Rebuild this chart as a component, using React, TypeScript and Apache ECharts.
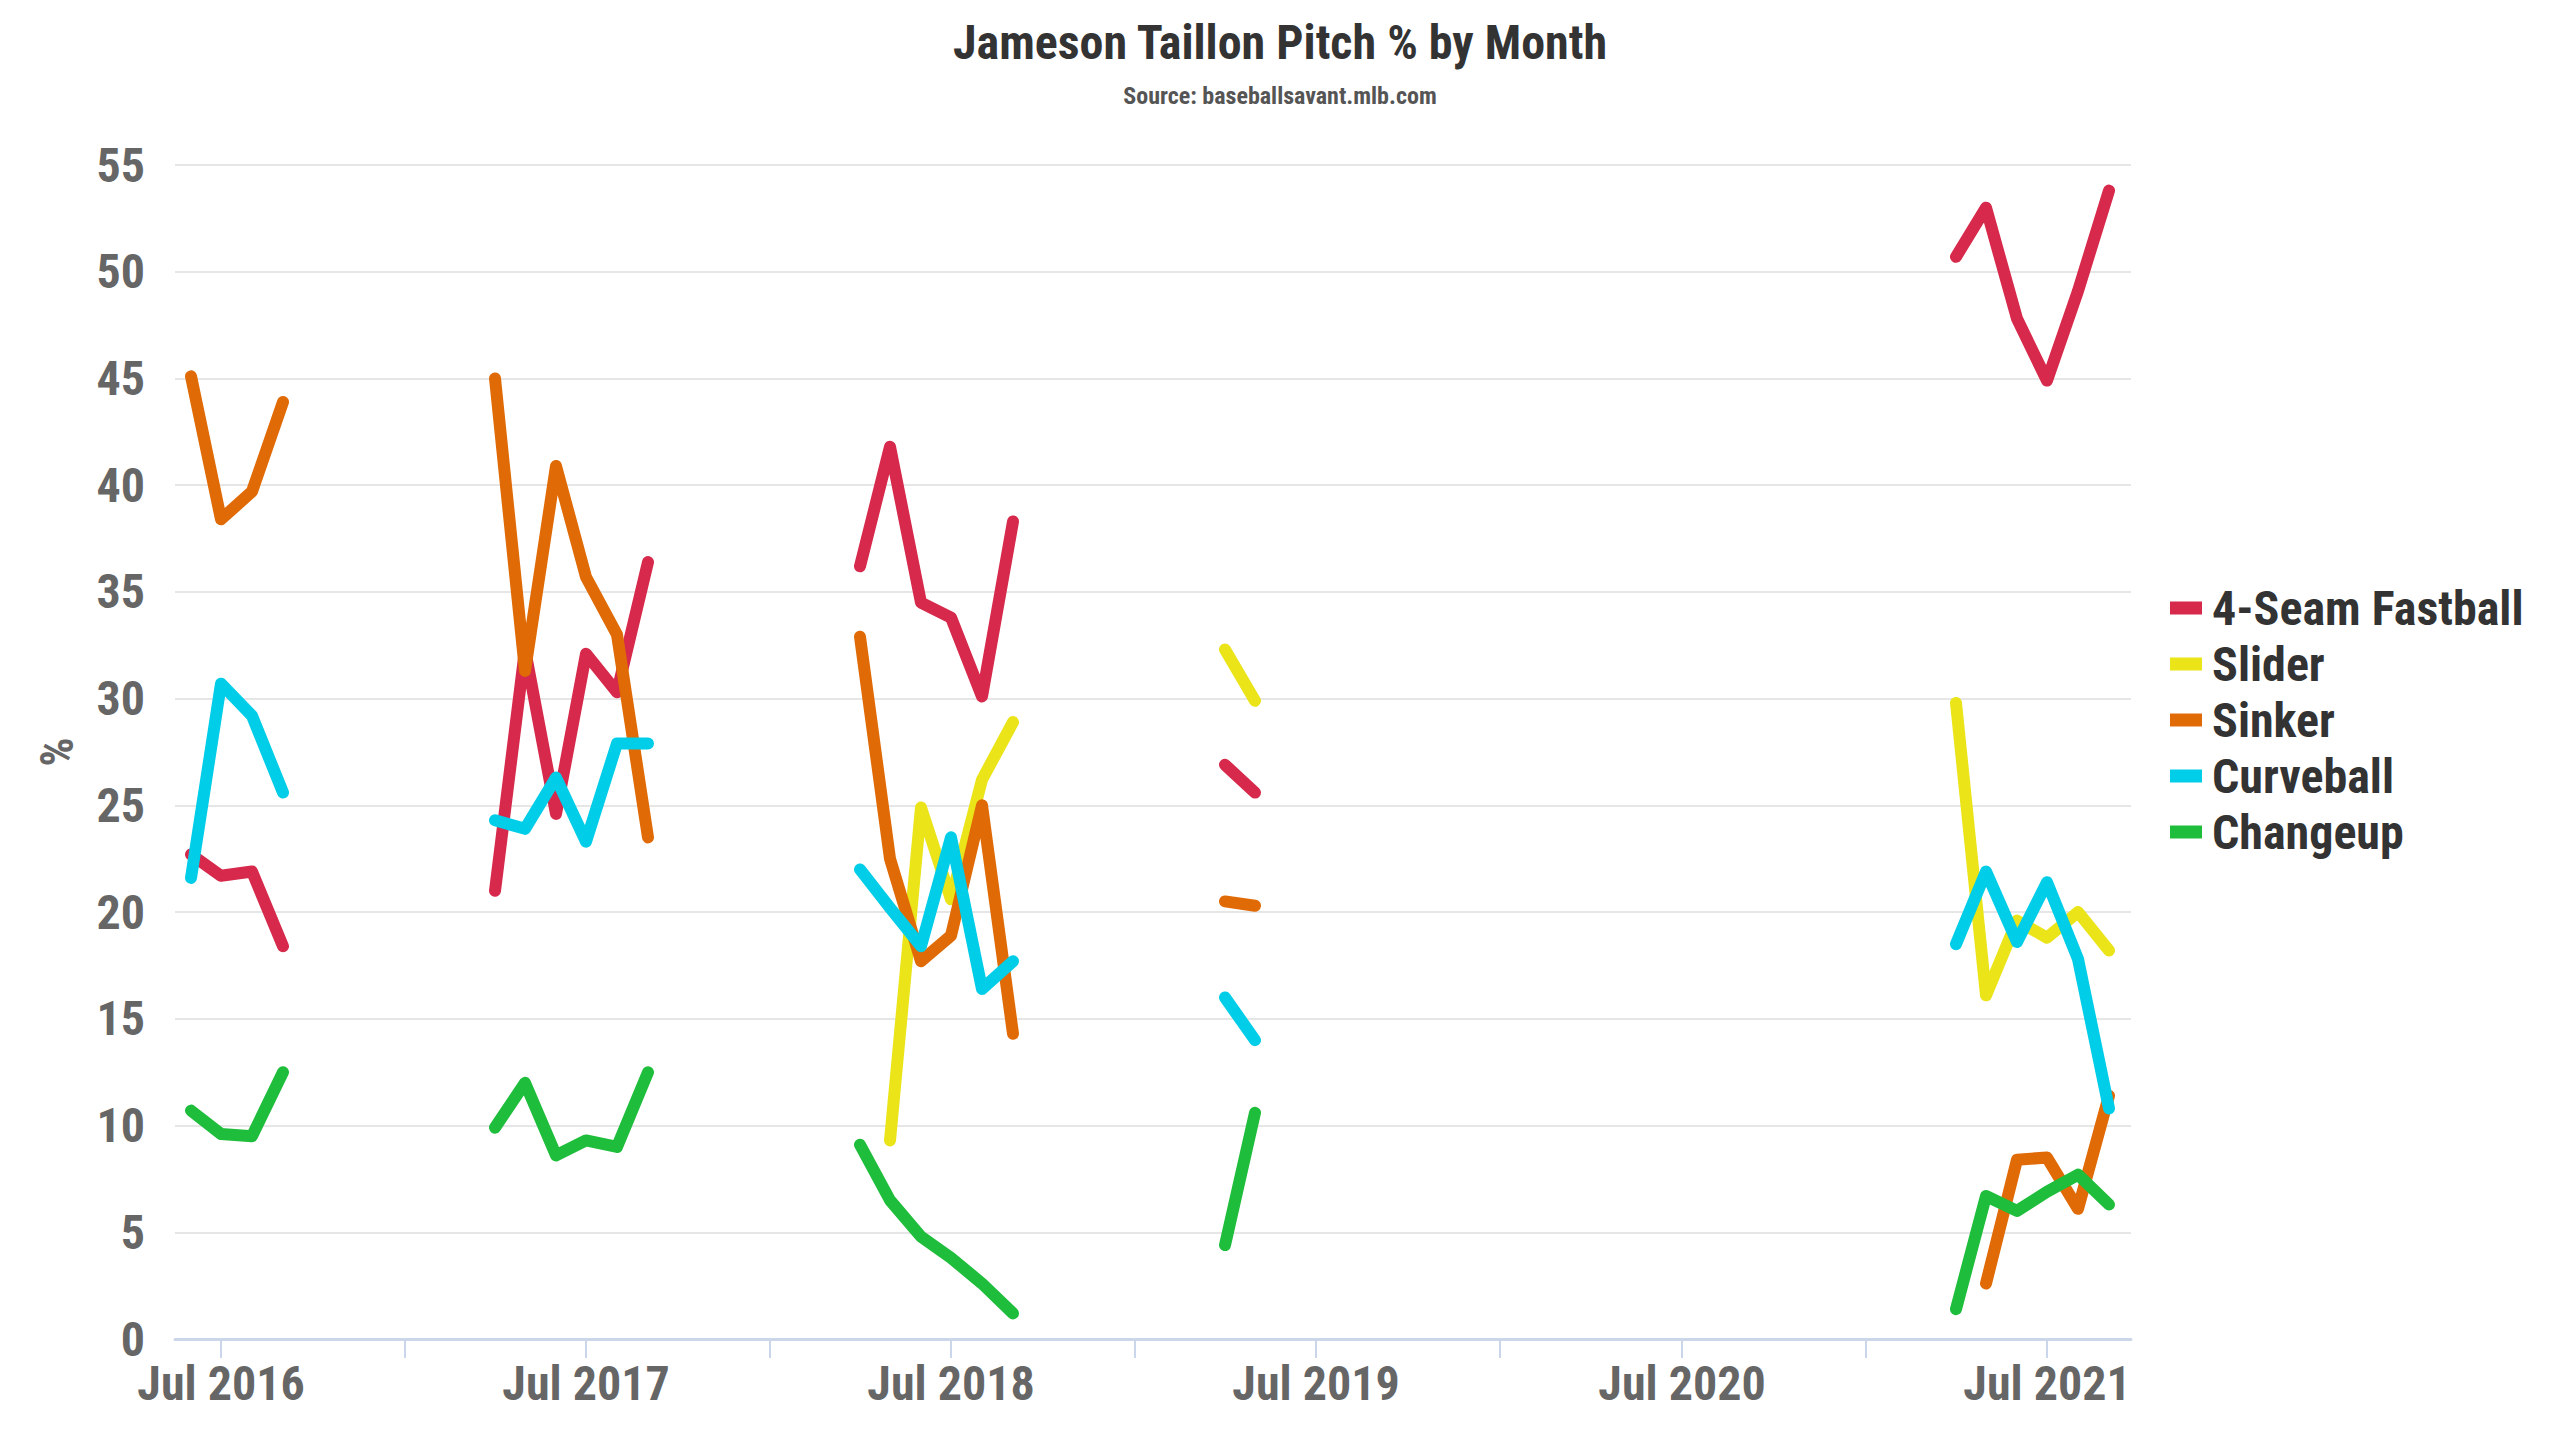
import React, { useEffect, useRef } from "react";
import * as echarts from "echarts";

const MONTHS = [
  "2016-06", "2016-07", "2016-08", "2016-09",
  "2017-04", "2017-05", "2017-06", "2017-07", "2017-08", "2017-09",
  "2018-04", "2018-05", "2018-06", "2018-07", "2018-08", "2018-09",
  "2019-04", "2019-05",
  "2021-04", "2021-05", "2021-06", "2021-07", "2021-08", "2021-09",
];

const FASTBALL = [22.7, 21.7, 21.9, 18.4, 21.0, 32.3, 24.6, 32.1, 30.3, 36.4, 36.2, 41.8, 34.5, 33.8, 30.1, 38.3, 26.9, 25.6, 50.7, 53.0, 47.8, 44.9, 49.1, 53.8];
const SLIDER = [null, null, null, null, null, null, null, null, null, null, null, 9.3, 24.9, 20.6, 26.2, 28.9, 32.3, 29.9, 29.8, 16.1, 19.6, 18.8, 20.0, 18.2];
const SINKER = [45.1, 38.4, 39.7, 43.9, 45.0, 31.3, 40.9, 35.7, 33.0, 23.5, 32.9, 22.5, 17.7, 18.9, 25.0, 14.3, 20.5, 20.3, null, 2.6, 8.4, 8.5, 6.1, 11.4];
const CURVEBALL = [21.6, 30.7, 29.2, 25.6, 24.3, 23.9, 26.3, 23.3, 27.9, 27.9, 22.0, 20.2, 18.4, 23.5, 16.4, 17.7, 16.0, 14.0, 18.5, 21.9, 18.6, 21.4, 17.8, 10.8];
const CHANGEUP = [10.7, 9.6, 9.5, 12.5, 9.9, 12.0, 8.6, 9.3, 9.0, 12.5, 9.1, 6.5, 4.8, 3.8, 2.6, 1.2, 4.4, 10.6, 1.4, 6.7, 6.0, 6.9, 7.7, 6.3];

const SERIES_NAMES = ["4-Seam Fastball", "Slider", "Sinker", "Curveball", "Changeup"];
const SERIES_VALUES = [FASTBALL, SLIDER, SINKER, CURVEBALL, CHANGEUP];
const COLORS = ["#D6294B", "#EAE419", "#E06A05", "#00CDE8", "#1EBD3B"];

const Y_TICKS = [0, 5, 10, 15, 20, 25, 30, 35, 40, 45, 50, 55];
const LABEL_YEARS = [2016, 2017, 2018, 2019, 2020, 2021];
const AXIS_MIN = "2016-05-16";
const AXIS_MAX = "2021-09-23";

const FONT = "'Roboto Condensed', 'Liberation Sans Narrow', 'DejaVu Sans Condensed', Roboto, sans-serif";

function ym(m: string) {
  const [y, mo] = m.split("-").map(Number);
  return { y, mo };
}
function ts(y: number, mo: number, d = 1) {
  return new Date(y, mo - 1, d).getTime();
}
function parseDate(s: string) {
  const [y, mo, d] = s.split("-").map(Number);
  return ts(y, mo, d);
}

function buildData(values: (number | null)[]) {
  const out: any[] = [];
  MONTHS.forEach((m, i) => {
    const { y, mo } = ym(m);
    if (i > 0) {
      const p = ym(MONTHS[i - 1]);
      if (y * 12 + mo - (p.y * 12 + p.mo) > 1) {
        out.push([ts(p.y, p.mo + 1), "-"]);
      }
    }
    const v = values[i];
    out.push([ts(y, mo), v == null ? "-" : v]);
  });
  return out;
}

export default function App() {
  const ref = useRef<HTMLDivElement>(null);
  useEffect(() => {
    document.body.style.margin = "0";
    document.body.style.overflow = "hidden";
    const chart = echarts.init(ref.current!, null, { renderer: "svg" });
    const tickValues: number[] = [];
    for (let y = 2016; y <= 2021; y++) {
      if (y > 2016) tickValues.push(ts(y, 1));
      tickValues.push(ts(y, 7));
    }
    const labelValues = LABEL_YEARS.map((y) => ts(y, 7));
    chart.setOption({
      animation: false,
      backgroundColor: "#ffffff",
      color: COLORS,
      title: {
        text: "Jameson Taillon Pitch % by Month",
        subtext: "Source: baseballsavant.mlb.com",
        left: "center",
        top: 13,
        itemGap: 18,
        textStyle: { fontFamily: FONT, fontSize: 48, fontWeight: "bold", color: "#333333" },
        subtextStyle: { fontFamily: FONT, fontSize: 24, fontWeight: "bold", color: "#555555" },
      },
      legend: {
        orient: "vertical",
        left: 2165,
        top: 579,
        itemWidth: 32,
        itemHeight: 13,
        itemGap: 8,
        icon: "rect",
        data: SERIES_NAMES,
        textStyle: { fontFamily: FONT, fontSize: 48, fontWeight: "bold", color: "#333333", padding: [0, 0, 0, 5] },
      },
      grid: { left: 175, right: 429, top: 165, bottom: 101, containLabel: false },
      xAxis: {
        type: "value",
        min: parseDate(AXIS_MIN),
        max: parseDate(AXIS_MAX),
        axisLine: { show: true, lineStyle: { color: "#ccd6eb", width: 3 } },
        axisTick: { show: true, customValues: tickValues, length: 19, lineStyle: { color: "#ccd6eb", width: 2 } },
        axisLabel: {
          customValues: labelValues,
          margin: 20,
          fontFamily: FONT,
          fontSize: 48,
          fontWeight: "bold",
          color: "#666666",
          formatter: (v: number) => "Jul " + new Date(v).getFullYear(),
        },
        splitLine: { show: false },
      },
      yAxis: {
        type: "value",
        min: Y_TICKS[0],
        max: Y_TICKS[Y_TICKS.length - 1],
        interval: 5,
        name: "%",
        nameLocation: "middle",
        nameRotate: 90,
        nameGap: 95,
        nameTextStyle: { fontFamily: FONT, fontSize: 46, fontWeight: "bold", color: "#666666" },
        axisLine: { show: false },
        axisTick: { show: false },
        axisLabel: { margin: 30, fontFamily: FONT, fontSize: 48, fontWeight: "bold", color: "#666666" },
        splitLine: { lineStyle: { color: "#e6e6e6", width: 2 } },
      },
      series: SERIES_NAMES.map((name, i) => ({
        name,
        type: "line",
        data: buildData(SERIES_VALUES[i]),
        showSymbol: false,
        connectNulls: false,
        lineStyle: { width: 12, cap: "round", join: "round", color: COLORS[i] },
        itemStyle: { color: COLORS[i] },
        emphasis: { disabled: true },
        z: 2 + i,
      })),
    });
    return () => chart.dispose();
  }, []);
  return <div ref={ref} style={{ width: 2560, height: 1440 }} />;
}
